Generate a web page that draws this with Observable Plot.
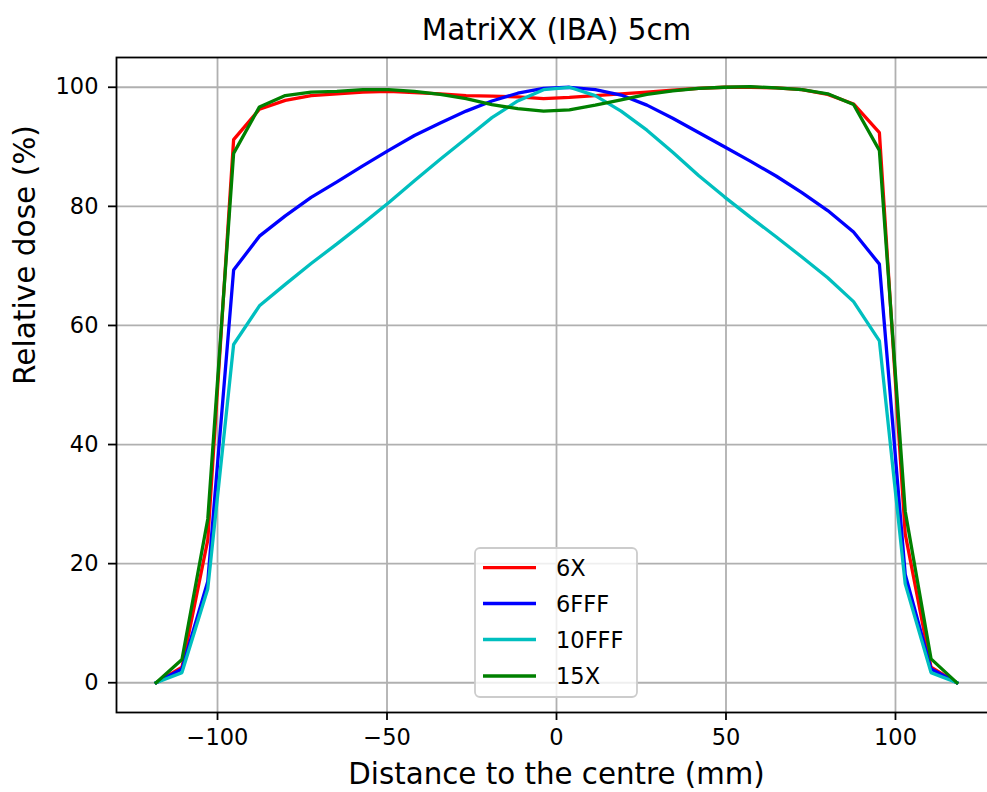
<!DOCTYPE html>
<html><head><meta charset="utf-8">
<script src="https://cdn.jsdelivr.net/npm/d3@7"></script>
<script src="https://cdn.jsdelivr.net/npm/@observablehq/plot@0.6"></script>
<style>
html,body{margin:0;padding:0;background:#fff;overflow:hidden;}
#chart{width:987px;height:792px;overflow:hidden;position:relative;}
#chart svg{max-width:none !important;display:block;}
</style></head><body><div id="chart"></div>
<script>
// Detector positions (mm)
const positions = [-118.11, -110.49, -102.87, -95.25, -87.63, -80.01, -72.39, -64.77, -57.15, -49.53, -41.91, -34.29, -26.67, -19.05, -11.43, -3.81,
  3.81, 11.43, 19.05, 26.67, 34.29, 41.91, 49.53, 57.15, 64.77, 72.39, 80.01, 87.63, 95.25, 102.87, 110.49, 118.11];
const seriesNames = ["6X", "6FFF", "10FFF", "15X"];
const dose6X = [0, 2.6, 24.0, 91.2, 96.3, 97.8, 98.6, 98.9, 99.2, 99.3, 99.1, 98.9, 98.6, 98.5, 98.4, 98.1,
  98.3, 98.6, 98.9, 99.2, 99.5, 99.8, 100.0, 100.0, 99.9, 99.6, 98.8, 97.2, 92.4, 25.0, 2.6, 0];
const dose6FFF = [0, 2.3, 17.0, 69.3, 75.0, 78.4, 81.5, 84.1, 86.8, 89.4, 91.9, 94.0, 96.0, 97.7, 99.0, 99.8,
  100.0, 99.6, 98.7, 97.0, 94.8, 92.4, 90.0, 87.6, 85.1, 82.3, 79.3, 75.7, 70.3, 18.2, 2.3, 0];
const dose10FFF = [0, 1.7, 15.8, 56.8, 63.3, 66.9, 70.4, 73.7, 77.1, 80.6, 84.3, 87.9, 91.4, 94.9, 97.7, 99.6,
  100.0, 98.6, 96.0, 92.8, 89.1, 85.2, 81.6, 78.2, 74.9, 71.5, 68.0, 64.0, 57.4, 16.6, 1.7, 0];
const dose15X = [0, 3.9, 27.5, 88.9, 96.7, 98.6, 99.2, 99.3, 99.6, 99.6, 99.3, 98.8, 98.1, 97.1, 96.4, 96.0,
  96.2, 97.0, 97.9, 98.8, 99.4, 99.8, 100.0, 100.1, 99.9, 99.6, 98.9, 97.1, 89.4, 28.8, 4.0, 0];
const seriesColors = ["#ff0000", "#0000ff", "#00bfbf", "#008000"];
const xTicks = [-100, -50, 0, 50, 100];
const yTicks = [0, 20, 40, 60, 80, 100];
const titleText = ["MatriXX (IBA) 5cm"];
const xLabelText = ["Distance to the centre (mm)"];
const yLabelText = ["Relative dose (%)"];

const doseArrays = [dose6X, dose6FFF, dose10FFF, dose15X];
const rows = [];
seriesNames.forEach((name, s) => positions.forEach((x, i) => rows.push({series: name, x, dose: doseArrays[s][i]})));

const fmt = d => d < 0 ? "\u2212" + (-d) : String(d);

const plot = Plot.plot({
  width: 996, height: 792,
  marginLeft: 116, marginRight: 0, marginTop: 57, marginBottom: 80,
  style: {fontFamily: "DejaVu Sans", fontSize: "22.5px", color: "#000", background: "#fff", overflow: "visible", maxWidth: "none"},
  x: {domain: [-129.8, 129.8], label: null},
  y: {domain: [-5, 105], label: null},
  color: {domain: seriesNames, range: seriesColors},
  marks: [
    Plot.gridX(xTicks, {stroke: "#b0b0b0", strokeOpacity: 1, strokeWidth: 1.8}),
    Plot.gridY(yTicks, {stroke: "#b0b0b0", strokeOpacity: 1, strokeWidth: 1.8}),
    Plot.line(rows, {x: "x", y: "dose", z: "series", stroke: "series", strokeWidth: 3.3, strokeLinejoin: "miter", strokeLinecap: "square"}),
    Plot.frame({stroke: "#000", strokeWidth: 1.8}),
    Plot.axisX(xTicks, {tickFormat: fmt, tickSize: 8, tickPadding: 9, fontSize: 22.5, strokeWidth: 1.8, label: null}),
    Plot.axisY(yTicks, {tickSize: 8, tickPadding: 10, fontSize: 22.5, strokeWidth: 1.8, label: null}),
    Plot.text(titleText, {text: d => d, frameAnchor: "top", dy: -26.5, fontSize: 29.4, lineAnchor: "middle"}),
    Plot.text(xLabelText, {text: d => d, frameAnchor: "bottom", dy: 62.5, fontSize: 29.3, lineAnchor: "middle"}),
    Plot.text(yLabelText, {text: d => d, frameAnchor: "left", dx: -90.5, rotate: -90, fontSize: 29.6, lineAnchor: "middle"})
  ]
});

// Legend (matplotlib style, lower center)
const svg = d3.select(plot);
const lg = svg.append("g").attr("font-family", "DejaVu Sans").attr("font-size", 22.5).attr("text-anchor", "start");
lg.append("rect").attr("x", 475).attr("y", 548).attr("width", 162).attr("height", 149).attr("rx", 5)
  .attr("fill", "#fff").attr("fill-opacity", 0.8).attr("stroke", "#cccccc").attr("stroke-width", 1.8);
const rowY = [567.7, 603.5, 639.5, 676];
seriesNames.forEach((name, i) => {
  lg.append("line").attr("x1", 483).attr("x2", 536).attr("y1", rowY[i]).attr("y2", rowY[i])
    .attr("stroke", seriesColors[i]).attr("stroke-width", 3.3);
  lg.append("text").attr("x", 556).attr("y", rowY[i] + 8.2).attr("fill", "#000").attr("text-anchor", "start").text(name);
});

document.getElementById("chart").appendChild(plot);
</script></body></html>
